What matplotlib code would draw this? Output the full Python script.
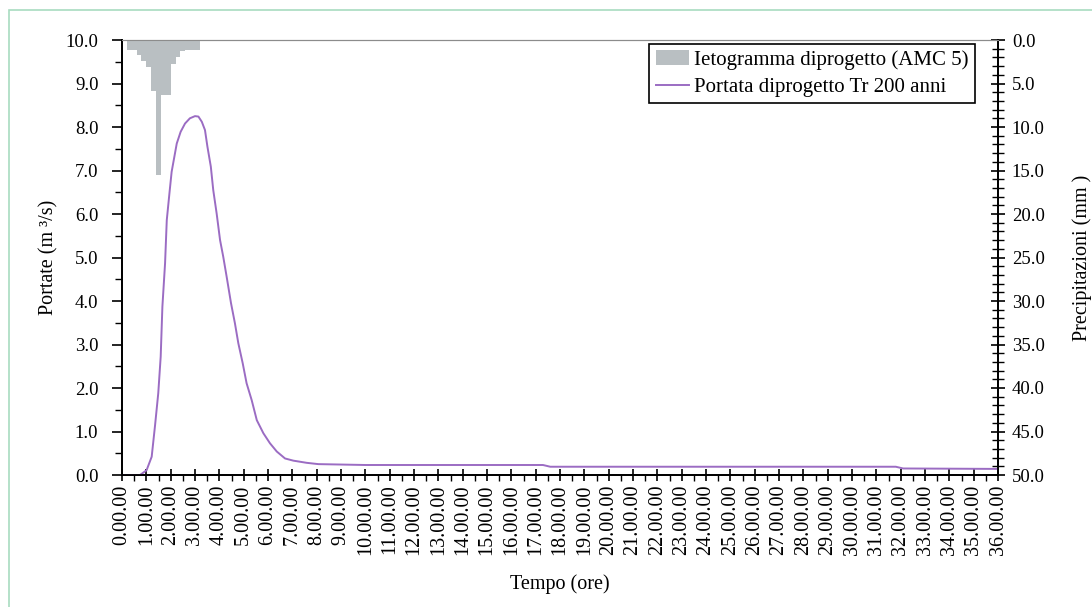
import numpy as np
import matplotlib.pyplot as plt
from matplotlib.patches import Rectangle
from matplotlib.ticker import MultipleLocator, FixedLocator

plt.rcParams['font.family'] = ['Liberation Serif', 'DejaVu Serif']

# hyetograph (mm per 0.2 h step), bar centres in hours
rain_t = [0.3, 0.5, 0.7, 0.9, 1.1, 1.3, 1.5, 1.7, 1.9, 2.1, 2.3, 2.5, 2.7, 2.9, 3.1]
rain_mm = [1.15, 1.15, 1.7, 2.4, 3.1, 5.9, 15.5, 6.3, 6.3, 2.8, 1.9, 1.3, 1.2, 1.15, 1.15]

# design discharge (m3/s)
q_t = [0.0, 0.74, 1.01, 1.22, 1.36, 1.49, 1.59, 1.66, 1.77, 1.84, 1.95, 2.04, 2.14,
       2.25, 2.41, 2.59, 2.79, 3.0, 3.14, 3.28, 3.41, 3.51, 3.65, 3.75, 3.89, 4.03,
       4.16, 4.30, 4.48, 4.64, 4.78, 4.96, 5.12, 5.33, 5.54, 5.81, 6.08, 6.36, 6.70,
       7.04, 7.59, 8.07, 10.0, 17.3, 17.6, 31.8, 32.1, 36.0]
q_val = [0.0, 0.0, 0.11, 0.42, 1.15, 1.88, 2.72, 3.87, 4.87, 5.86, 6.48, 6.97, 7.28,
         7.62, 7.89, 8.08, 8.20, 8.25, 8.24, 8.12, 7.93, 7.55, 7.09, 6.55, 6.01, 5.40,
         5.02, 4.56, 3.95, 3.49, 3.03, 2.57, 2.11, 1.72, 1.26, 0.96, 0.73, 0.54, 0.38,
         0.33, 0.28, 0.25, 0.23, 0.23, 0.19, 0.19, 0.15, 0.14]

hours = list(range(0, 37))
hour_labels = [f"{h}.00.00" for h in hours]

fig = plt.figure(figsize=(10.92, 6.07), dpi=100)
ax = fig.add_axes([122/1092, 1 - 475/607, 876/1092, 435/607])
ax2 = ax.twinx()

line, = ax.plot(q_t, q_val, color='#9b6cc3', lw=1.4, zorder=3,
                label='Portata diprogetto Tr 200 anni')
bars = ax2.bar(rain_t, rain_mm, width=0.2, color='#b9bfc2', edgecolor='none',
               label='Ietogramma diprogetto (AMC 5)')

ax.set_xlim(0, 36)
ax.set_ylim(0, 10)
ax2.set_ylim(50, 0)

ax.xaxis.set_major_locator(FixedLocator(hours))
ax.set_xticklabels(hour_labels, rotation=90, fontsize=14.5)
ax.xaxis.set_minor_locator(MultipleLocator(0.5))
ax.yaxis.set_major_locator(MultipleLocator(1))
ax.yaxis.set_minor_locator(MultipleLocator(0.5))
ax.set_yticklabels([f"{v:.1f}" for v in ax.get_yticks()], fontsize=13.5)
ax2.yaxis.set_major_locator(MultipleLocator(5))
ax2.yaxis.set_minor_locator(MultipleLocator(1))
ax2.set_yticklabels([f"{v:.1f}" for v in ax2.get_yticks()], fontsize=13.5)

ax.tick_params(axis='x', which='major', direction='inout', length=8, width=1.2, pad=3)
ax.tick_params(axis='x', which='minor', direction='out', length=4, width=1.0)
ax.tick_params(axis='y', which='major', direction='out', length=7, width=1.2, pad=10)
ax.tick_params(axis='y', which='minor', direction='out', length=5, width=1.0)
ax2.tick_params(axis='y', which='major', direction='inout', length=10, width=1.2, pad=5)
ax2.tick_params(axis='y', which='minor', direction='inout', length=8, width=1.0)

for a in (ax, ax2):
    a.spines['top'].set_color('#8c8c8c')
    a.spines['left'].set_linewidth(1.3)
    a.spines['bottom'].set_linewidth(1.3)
    a.spines['right'].set_linewidth(1.3)

ax.set_xlabel('Tempo (ore)', fontsize=14.5, labelpad=14)
ax.set_ylabel('Portate (m ³/s)', fontsize=14.5, labelpad=5)
ax2.set_ylabel('Precipitazioni (mm )', fontsize=14.5, labelpad=20)

leg = ax2.legend([bars, line], [bars.get_label(), line.get_label()],
                 loc='upper right', bbox_to_anchor=(975/1092, 1 - 44/607),
                 bbox_transform=fig.transFigure, fontsize=15,
                 fancybox=False, framealpha=1, edgecolor='black',
                 borderpad=0.3, handlelength=1.6, handletextpad=0.25,
                 labelspacing=0.35, borderaxespad=0.0)
leg.get_frame().set_linewidth(1.2)

fig.patches.append(Rectangle((9/1092, -0.01), 1.02, 1 - 10/607 + 0.01,
                             transform=fig.transFigure, fill=False,
                             edgecolor='#a8dcc0', lw=1.2))

fig.savefig('out.png', dpi=100)
